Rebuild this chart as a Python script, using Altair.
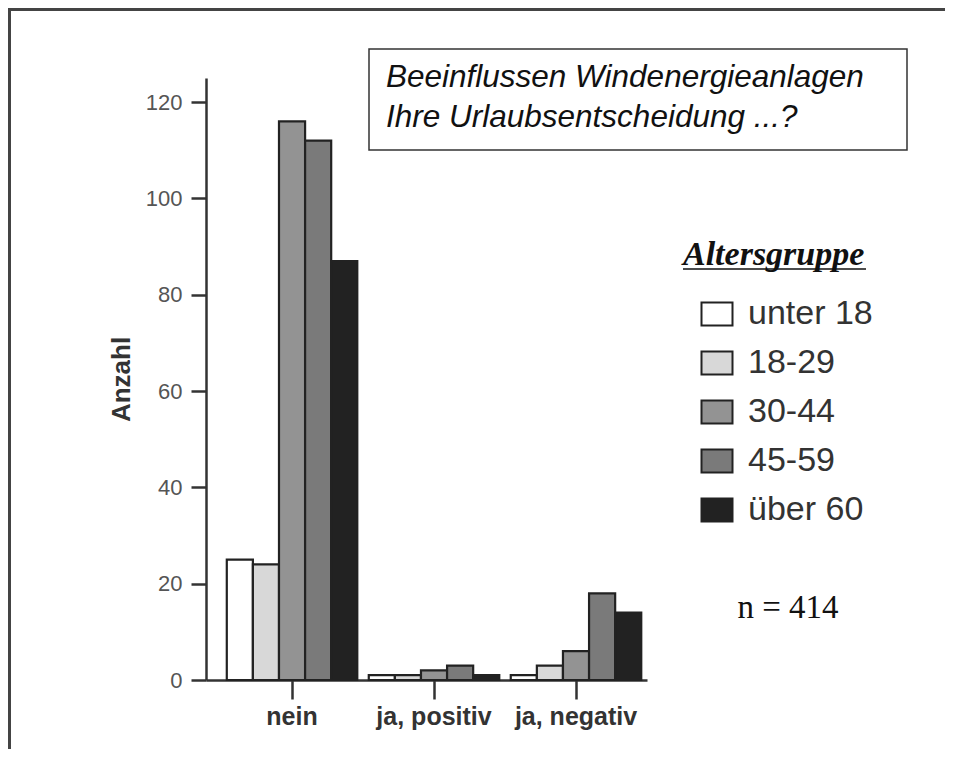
import altair as alt
import pandas as pd

# ---- data ----
categories = ["nein", "ja, positiv", "ja, negativ"]
age_groups = ["unter 18", "18-29", "30-44", "45-59", "über 60"]
unter_18 = [25, 1, 1]
a18_29 = [24, 1, 3]
a30_44 = [116, 2, 6]
a45_59 = [112, 3, 18]
ueber_60 = [87, 1, 14]
colors = ["#ffffff", "#d8d8d8", "#939393", "#7a7a7a", "#222222"]
y_ticks = [0, 20, 40, 60, 80, 100, 120]
title_lines = ["Beeinflussen Windenergieanlagen", "Ihre Urlaubsentscheidung ...?"]
legend_title = "Altersgruppe"
n_text = "n = 414"

series = [unter_18, a18_29, a30_44, a45_59, ueber_60]
rows = []
for g, vals in zip(age_groups, series):
    for c, v in zip(categories, vals):
        rows.append({"Antwort": c, "Altersgruppe": g, "Anzahl": v})
df = pd.DataFrame(rows)

W, H = 441, 602

bars = alt.Chart(df).mark_bar(stroke="#222222", strokeWidth=2.2).encode(
    x=alt.X("Antwort:N", sort=categories,
            scale=alt.Scale(paddingInner=0, paddingOuter=0.053, align=1),
            axis=alt.Axis(title=None, labelAngle=0, labelFont="Liberation Sans",
                          labelFontWeight="bold", labelFontSize=25, labelColor="#333333",
                          labelPadding=5, tickSize=19, tickWidth=2.5, tickColor="#333333",
                          domainColor="#333333", domainWidth=2.5, grid=False)),
    xOffset=alt.XOffset("Altersgruppe:N", sort=age_groups,
                        scale=alt.Scale(paddingInner=0, paddingOuter=0.22)),
    y=alt.Y("Anzahl:Q", scale=alt.Scale(domain=[0, 125], nice=False),
            axis=alt.Axis(values=y_ticks, title="Anzahl", titleFont="Liberation Sans",
                          titleFontWeight="bold", titleFontSize=26, titleColor="#333333",
                          titlePadding=11, labelFont="Liberation Sans", labelFontSize=22,
                          labelColor="#555555", labelPadding=9, tickSize=15, tickWidth=2.5,
                          tickColor="#333333", domainColor="#333333", domainWidth=2.5,
                          grid=False)),
    color=alt.Color("Altersgruppe:N", sort=age_groups,
                    scale=alt.Scale(domain=age_groups, range=colors),
                    legend=alt.Legend(title=None, orient="none", legendX=494, legendY=219,
                                      symbolType="M-1,-0.74H1V0.74H-1Z", symbolSize=961,
                                      symbolStrokeColor="#222222", symbolStrokeWidth=2,
                                      symbolOpacity=1,
                                      labelFont="Liberation Sans", labelFontSize=34,
                                      labelColor="#333333", labelOffset=14,
                                      rowPadding=15, labelLimit=300)),
)

one = pd.DataFrame({"k": [0]})

title_box = alt.Chart(one).mark_rect(fill="white", stroke="#333333", strokeWidth=1.5).encode(
    x=alt.value(163), x2=alt.value(701), y=alt.value(-29), y2=alt.value(72))

title_text = alt.Chart(pd.DataFrame({"t": ["\n".join(title_lines)]})).mark_text(
    align="left", baseline="top", font="Liberation Sans", fontStyle="italic",
    fontSize=31.5, color="#111111", lineBreak="\n", lineHeight=40).encode(
    x=alt.value(180), y=alt.value(-16), text="t:N")

leg_title = alt.Chart(pd.DataFrame({"t": [legend_title]})).mark_text(
    align="left", baseline="alphabetic", font="Liberation Serif", fontStyle="italic",
    fontWeight="bold", fontSize=34, color="#111111").encode(
    x=alt.value(477), y=alt.value(187), text="t:N")

leg_underline = alt.Chart(one).mark_rule(color="#111111", strokeWidth=1.5).encode(
    x=alt.value(477), x2=alt.value(660), y=alt.value(191))

n_label = alt.Chart(pd.DataFrame({"t": [n_text]})).mark_text(
    align="center", baseline="middle", font="Liberation Serif", fontSize=33,
    color="#111111").encode(x=alt.value(582), y=alt.value(530), text="t:N")

frame_top = alt.Chart(one).mark_rule(color="#444444", strokeWidth=3).encode(
    x=alt.value(-197), x2=alt.value(745), y=alt.value(-68.5))
frame_left = alt.Chart(one).mark_rule(color="#444444", strokeWidth=3).encode(
    x=alt.value(-196.5), y=alt.value(-70), y2=alt.value(675))

chart = alt.layer(
    bars, title_box, title_text, leg_title, leg_underline, n_label, frame_top, frame_left
).properties(
    width=W, height=H,
    autosize=alt.AutoSizeParams(type="none"),
    padding={"left": 198, "top": 70, "right": 298, "bottom": 69},
    background="white",
).configure_view(stroke=None)

chart.save("out.html", embed_options={"renderer": "svg", "actions": False})
